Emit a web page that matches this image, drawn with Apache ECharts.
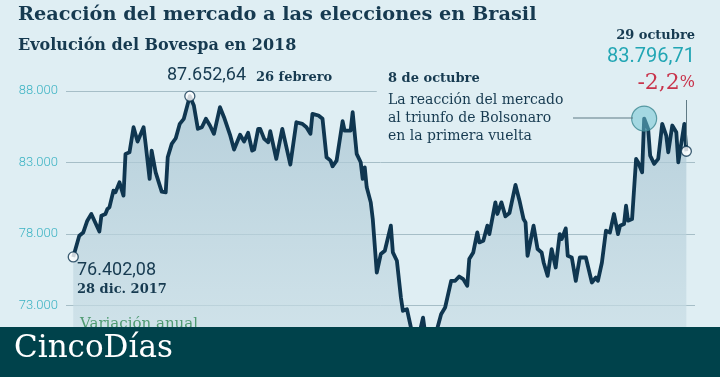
<!DOCTYPE html>
<html>
<head>
<meta charset="utf-8">
<script src="https://cdn.jsdelivr.net/npm/echarts@6/dist/echarts.min.js"></script>
<style>
  html, body { margin: 0; padding: 0; background: #dfeef3; }
  #chart { width: 720px; height: 377px; }
</style>
</head>
<body>
<div id="chart"></div>
<script>
// días desde el 28 dic. 2017
var dias = [
  0, 3, 5, 7, 9, 13, 14, 16, 17, 18,
  20, 21, 23, 25, 26, 28, 30, 32, 35, 36,
  38, 39, 41, 44, 46, 47, 49, 51, 53, 55,
  58, 60, 62, 64, 66, 68, 70, 73, 75, 78,
  80, 83, 85, 87, 89, 90, 92, 93, 95, 97,
  98, 101, 104, 108, 111, 114, 116, 118, 119, 122,
  124, 126, 128, 129, 131, 134, 135, 138, 139, 141,
  143, 144, 145, 146, 148, 149, 151, 153, 155, 158,
  159, 161, 163, 164, 166, 168, 171, 174, 176, 179,
  181, 183, 185, 188, 190, 192, 194, 196, 197, 199,
  201, 202, 204, 206, 207, 210, 211, 213, 215, 217,
  220, 222, 224, 225, 226, 229, 231, 233, 234, 236,
  238, 240, 242, 243, 245, 246, 248, 250, 252, 255,
  258, 260, 261, 263, 265, 267, 269, 271, 272, 274,
  275, 276, 278, 280, 281, 283, 284, 286, 287, 289,
  291, 293, 295, 296, 298, 300, 301, 304, 305
]

// cierre del Bovespa
var valores = [
  76402.08, 77885, 78116, 78936, 79405, 78186, 79286, 79405, 79756, 79868,
  81039, 80920, 81621, 80690, 83611, 83724, 85476, 84474, 85476, 84313,
  81858, 83843, 82322, 80969, 80920, 83373, 84313, 84705, 85715, 86065,
  87652.64, 86998, 85364, 85476, 86065, 85596, 85014, 86878, 86177, 84944,
  83913, 84944, 84474, 85084, 83843, 83913, 85364, 85364, 84664, 84425,
  85196, 83261, 85364, 82862, 85827, 85715, 85476, 85014, 86416, 86297,
  86065, 83373, 83142, 82743, 83142, 85897, 85245, 85245, 86528, 83612,
  83023, 81859, 82672, 81270, 80219, 79055, 75312, 76601, 76833, 78586,
  76716, 76132, 73559, 72627, 72745, 71456, 70300, 72157, 70100, 69900,
  71340, 72395, 72862, 74730, 74730, 75032, 74849, 74381, 76251, 76716,
  78116, 77415, 77534, 78586, 78003, 80219, 79406, 80219, 79238, 79476,
  81438, 80338, 79055, 78817, 76482, 78586, 76952, 76716, 76013, 75079,
  76952, 75663, 78003, 77649, 78398, 76482, 76363, 74730, 76363, 76363,
  74611, 74962, 74730, 76013, 78235, 78116, 79406, 78003, 78586, 78704,
  79987, 78936, 79055, 83261, 83023, 82322, 86083, 85364, 83493, 82911,
  83261, 85715, 84895, 83724, 85596, 85126, 83023, 85715, 83796.71
]

var marcasY = [73000, 78000, 83000, 88000]
var diaOctubre = 284

var fmt = function (v) {
  return String(v).replace(/\B(?=(\d{3})+(?!\d))/g, '.')
}

var serie = dias.map(function (d, i) { return [d, valores[i]] })
var iMax = valores.indexOf(Math.max.apply(null, valores))
var iOct = dias.indexOf(diaOctubre)
var puntos = [serie[0], serie[iMax], serie[serie.length - 1]]

var serif = '"DejaVu Serif", serif'
var sans = 'Roboto, sans-serif'
var azul = '#163a50'

var myChart = echarts.init(document.getElementById('chart'))

var option = {
  backgroundColor: '#dfeef3',
  animation: false,
  grid: { left: 66, right: 25, top: 34, bottom: 0 },
  xAxis: {
    type: 'value',
    min: -3.6,
    max: 309.3,
    show: false,
  },
  yAxis: {
    type: 'value',
    min: 68000,
    max: 92000,
    interval: 1000,
    axisLine: { show: false },
    axisTick: { show: false },
    splitLine: { show: false },
    axisLabel: {
      margin: 8,
      color: '#3cb3c3',
      fontFamily: sans,
      fontWeight: 300,
      fontSize: 13,
      formatter: function (v) {
        return marcasY.indexOf(v) >= 0 ? fmt(v) : ''
      },
    },
  },
  series: [
    {
      type: 'line',
      data: serie,
      showSymbol: false,
      lineStyle: { color: '#0f3650', width: 3.8, join: 'round' },
      areaStyle: {
        color: new echarts.graphic.LinearGradient(0, 0, 0, 1, [
          { offset: 0, color: '#a6c3d1' },
          { offset: 1, color: '#cfe2e9' },
        ]),
      },
      markLine: {
        silent: true,
        symbol: 'none',
        label: { show: false },
        lineStyle: { color: '#a6bec7', width: 1, type: 'solid' },
        z: 1,
        data: marcasY.map(function (v) {
          // la de 88.000 se corta antes del texto de octubre
          if (v === 88000) return [{ coord: [-3.6, v] }, { coord: [151, v] }]
          return { yAxis: v }
        }),
      },
      z: 3,
    },
    {
      // círculo del 8 de octubre
      type: 'scatter',
      data: [serie[iOct]],
      symbolSize: 25,
      itemStyle: {
        color: 'rgba(110,195,210,0.65)',
        borderColor: '#3d8791',
        borderWidth: 1.2,
      },
      z: 4,
    },
    {
      type: 'scatter',
      data: puntos,
      symbolSize: 10,
      itemStyle: { color: '#ffffff', borderColor: '#0f3650', borderWidth: 1.3 },
      z: 5,
    },
  ],
  graphic: [
    { type: 'text', left: 18, top: 5, z: 50,
      style: { text: 'Reacción del mercado a las elecciones en Brasil', font: 'bold 19.3px ' + serif, fill: azul } },
    { type: 'text', left: 18, top: 38, z: 50,
      style: { text: 'Evolución del Bovespa en 2018', font: 'bold 16px ' + serif, fill: azul } },

    { type: 'text', left: 167, top: 66, z: 50,
      style: { text: '87.652,64', font: '18px ' + sans, fill: azul } },
    { type: 'text', left: 256, top: 71, z: 50,
      style: { text: '26 febrero', font: 'bold 13px ' + serif, fill: azul } },

    { type: 'text', left: 77, top: 261, z: 50,
      style: { text: '76.402,08', font: '18px ' + sans, fill: azul } },
    { type: 'text', left: 77, top: 283, z: 50,
      style: { text: '28 dic. 2017', font: 'bold 13px ' + serif, fill: azul } },

    { type: 'text', left: 388, top: 72, z: 50,
      style: { text: '8 de octubre', font: 'bold 13px ' + serif, fill: azul } },
    { type: 'text', left: 388, top: 91, z: 50,
      style: { text: 'La reacción del mercado\nal triunfo de Bolsonaro\nen la primera vuelta', font: '14px ' + serif, fill: azul, lineHeight: 18 } },

    { type: 'text', right: 25, top: 29, z: 50,
      style: { text: '29 octubre', font: 'bold 13px ' + serif, fill: azul } },
    { type: 'text', right: 25, top: 47, z: 50,
      style: { text: '83.796,71', font: '20px ' + sans, fill: '#22a6b4' } },
    { type: 'text', right: 25, top: 72, z: 50,
      style: {
        text: '{a|-2,2}{b|%}',
        rich: {
          a: { font: '22px ' + serif, fill: '#c8334b' },
          b: { font: '16px ' + serif, fill: '#c8334b' },
        },
      } },

    // líneas de referencia de las anotaciones
    { type: 'line', z: 50, shape: { x1: 573, y1: 118, x2: 633, y2: 118 }, style: { stroke: '#5f7a85', lineWidth: 1 } },
    { type: 'line', z: 50, shape: { x1: 686.5, y1: 100, x2: 686.5, y2: 145 }, style: { stroke: '#5f7a85', lineWidth: 1 } },

    { type: 'text', left: 80, top: 317, z: 40,
      style: { text: 'Variación anual', font: '15px ' + serif, fill: '#4f9a72' } },

    // franja inferior
    { type: 'rect', left: 0, top: 327, z: 60,
      shape: { width: 720, height: 50 }, style: { fill: '#00424b' } },
    { type: 'text', left: 14, top: 333, z: 61,
      style: { text: 'CincoDías', font: '31px ' + serif, fill: '#ffffff' } },
  ],
}

myChart.setOption(option)
</script>
</body>
</html>
